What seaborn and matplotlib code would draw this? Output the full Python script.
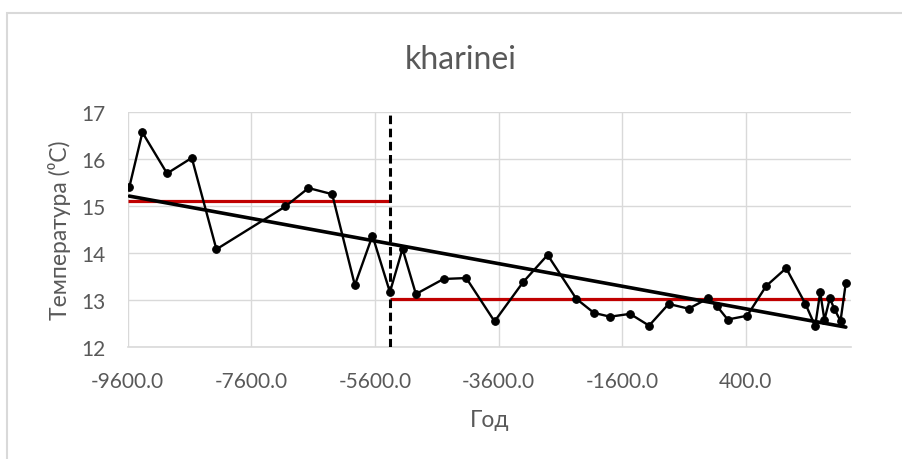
import numpy as np
import pandas as pd
import matplotlib
matplotlib.use("Agg")
import matplotlib.pyplot as plt
from matplotlib.patches import Rectangle
import seaborn as sns

# Reconstructed temperature series (year, °C)
years = [-9571, -9360, -8961, -8561, -8163, -7047, -6674, -6291, -5924, -5639,
         -5357, -5153, -4937, -4490, -4123, -3665, -3205, -2807, -2343, -2057,
         -1797, -1474, -1166, -849, -526, -211, -66, 105, 420, 727,
         1051, 1363, 1520, 1601, 1670, 1757, 1828, 1930, 2016]
temps = [15.40, 16.56, 15.69, 16.02, 14.08, 14.99, 15.38, 15.25, 13.32, 14.37,
         13.17, 14.09, 13.13, 13.45, 13.47, 12.55, 13.38, 13.96, 13.03, 12.73,
         12.65, 12.71, 12.46, 12.92, 12.82, 13.04, 12.87, 12.59, 12.67, 13.30,
         13.68, 12.92, 12.45, 13.17, 12.58, 13.04, 12.82, 12.56, 13.37]

# Boundary between the two periods and the extent of each period's mean line
break_year = -5357
period_edges = [-9600, break_year, 2000]

x_ticks = [-9600, -7600, -5600, -3600, -1600, 400]
y_ticks = [12, 13, 14, 15, 16, 17]

title = "kharinei"
x_label = "Год"
y_label = "Температура (⁰C)"

df = pd.DataFrame({"year": years, "temp": temps})
early = df[df["year"] < break_year]
late = df[df["year"] >= break_year]

sns.set_theme(style="white")
plt.rcParams["font.family"] = ["Lato", "DejaVu Sans"]

grey_text = "#595959"
grid_col = "#d9d9d9"

fig = plt.figure(figsize=(9.02, 4.60), dpi=100)
ax = fig.add_axes([0.1414, 0.2428, 0.8021, 0.5122])

# chart-area frame
fig.patches.append(Rectangle((7 / 902, -0.1), 1.2, 1 - 13.5 / 460 + 0.1,
                             transform=fig.transFigure, fill=False,
                             edgecolor=grid_col, linewidth=1.5, zorder=0))

# period means
ax.hlines(early["temp"].mean(), period_edges[0], period_edges[1],
          color="#c00000", linewidth=2.3, zorder=2)
ax.hlines(late["temp"].mean(), period_edges[1], period_edges[2],
          color="#c00000", linewidth=2.3, zorder=2)

# data series
sns.lineplot(data=df, x="year", y="temp", ax=ax, color="black",
             linewidth=1.7, marker="o", markersize=5.5,
             markeredgecolor="black", zorder=3)

# linear trend
sns.regplot(data=df, x="year", y="temp", ax=ax, scatter=False, ci=None,
            truncate=True, line_kws={"color": "black", "linewidth": 2.6,
                                     "zorder": 4})

# period boundary
ax.axvline(break_year, color="black", linewidth=2.2,
           linestyle=(0, (2.8, 1.5)), zorder=5)

ax.set_xlim(-9600, 2100)
ax.set_ylim(12, 17)
ax.set_xticks(x_ticks)
ax.set_xticklabels([f"{v:.1f}" for v in x_ticks])
ax.set_yticks(y_ticks)
ax.set_yticklabels([str(v) for v in y_ticks])
ax.grid(True, color=grid_col, linewidth=1.0)
ax.set_axisbelow(True)
for side in ["top", "right", "left"]:
    ax.spines[side].set_visible(False)
ax.spines["bottom"].set_color(grid_col)
ax.spines["bottom"].set_linewidth(1.2)
ax.tick_params(axis="both", length=0, labelsize=15, colors=grey_text)
ax.tick_params(axis="x", pad=17)
ax.tick_params(axis="y", pad=16)

ax.set_xlabel(x_label, fontsize=16.5, color=grey_text, labelpad=13)
ax.set_ylabel(y_label, fontsize=16.5, color=grey_text)
ax.yaxis.set_label_coords(-0.0945, 0.5)
ax.yaxis.label.set_verticalalignment("center")
fig.text(461 / 902, 1 - 60 / 460, title, fontsize=23, color=grey_text,
         ha="center", va="center")

fig.savefig("out.png", dpi=100, facecolor="white")
